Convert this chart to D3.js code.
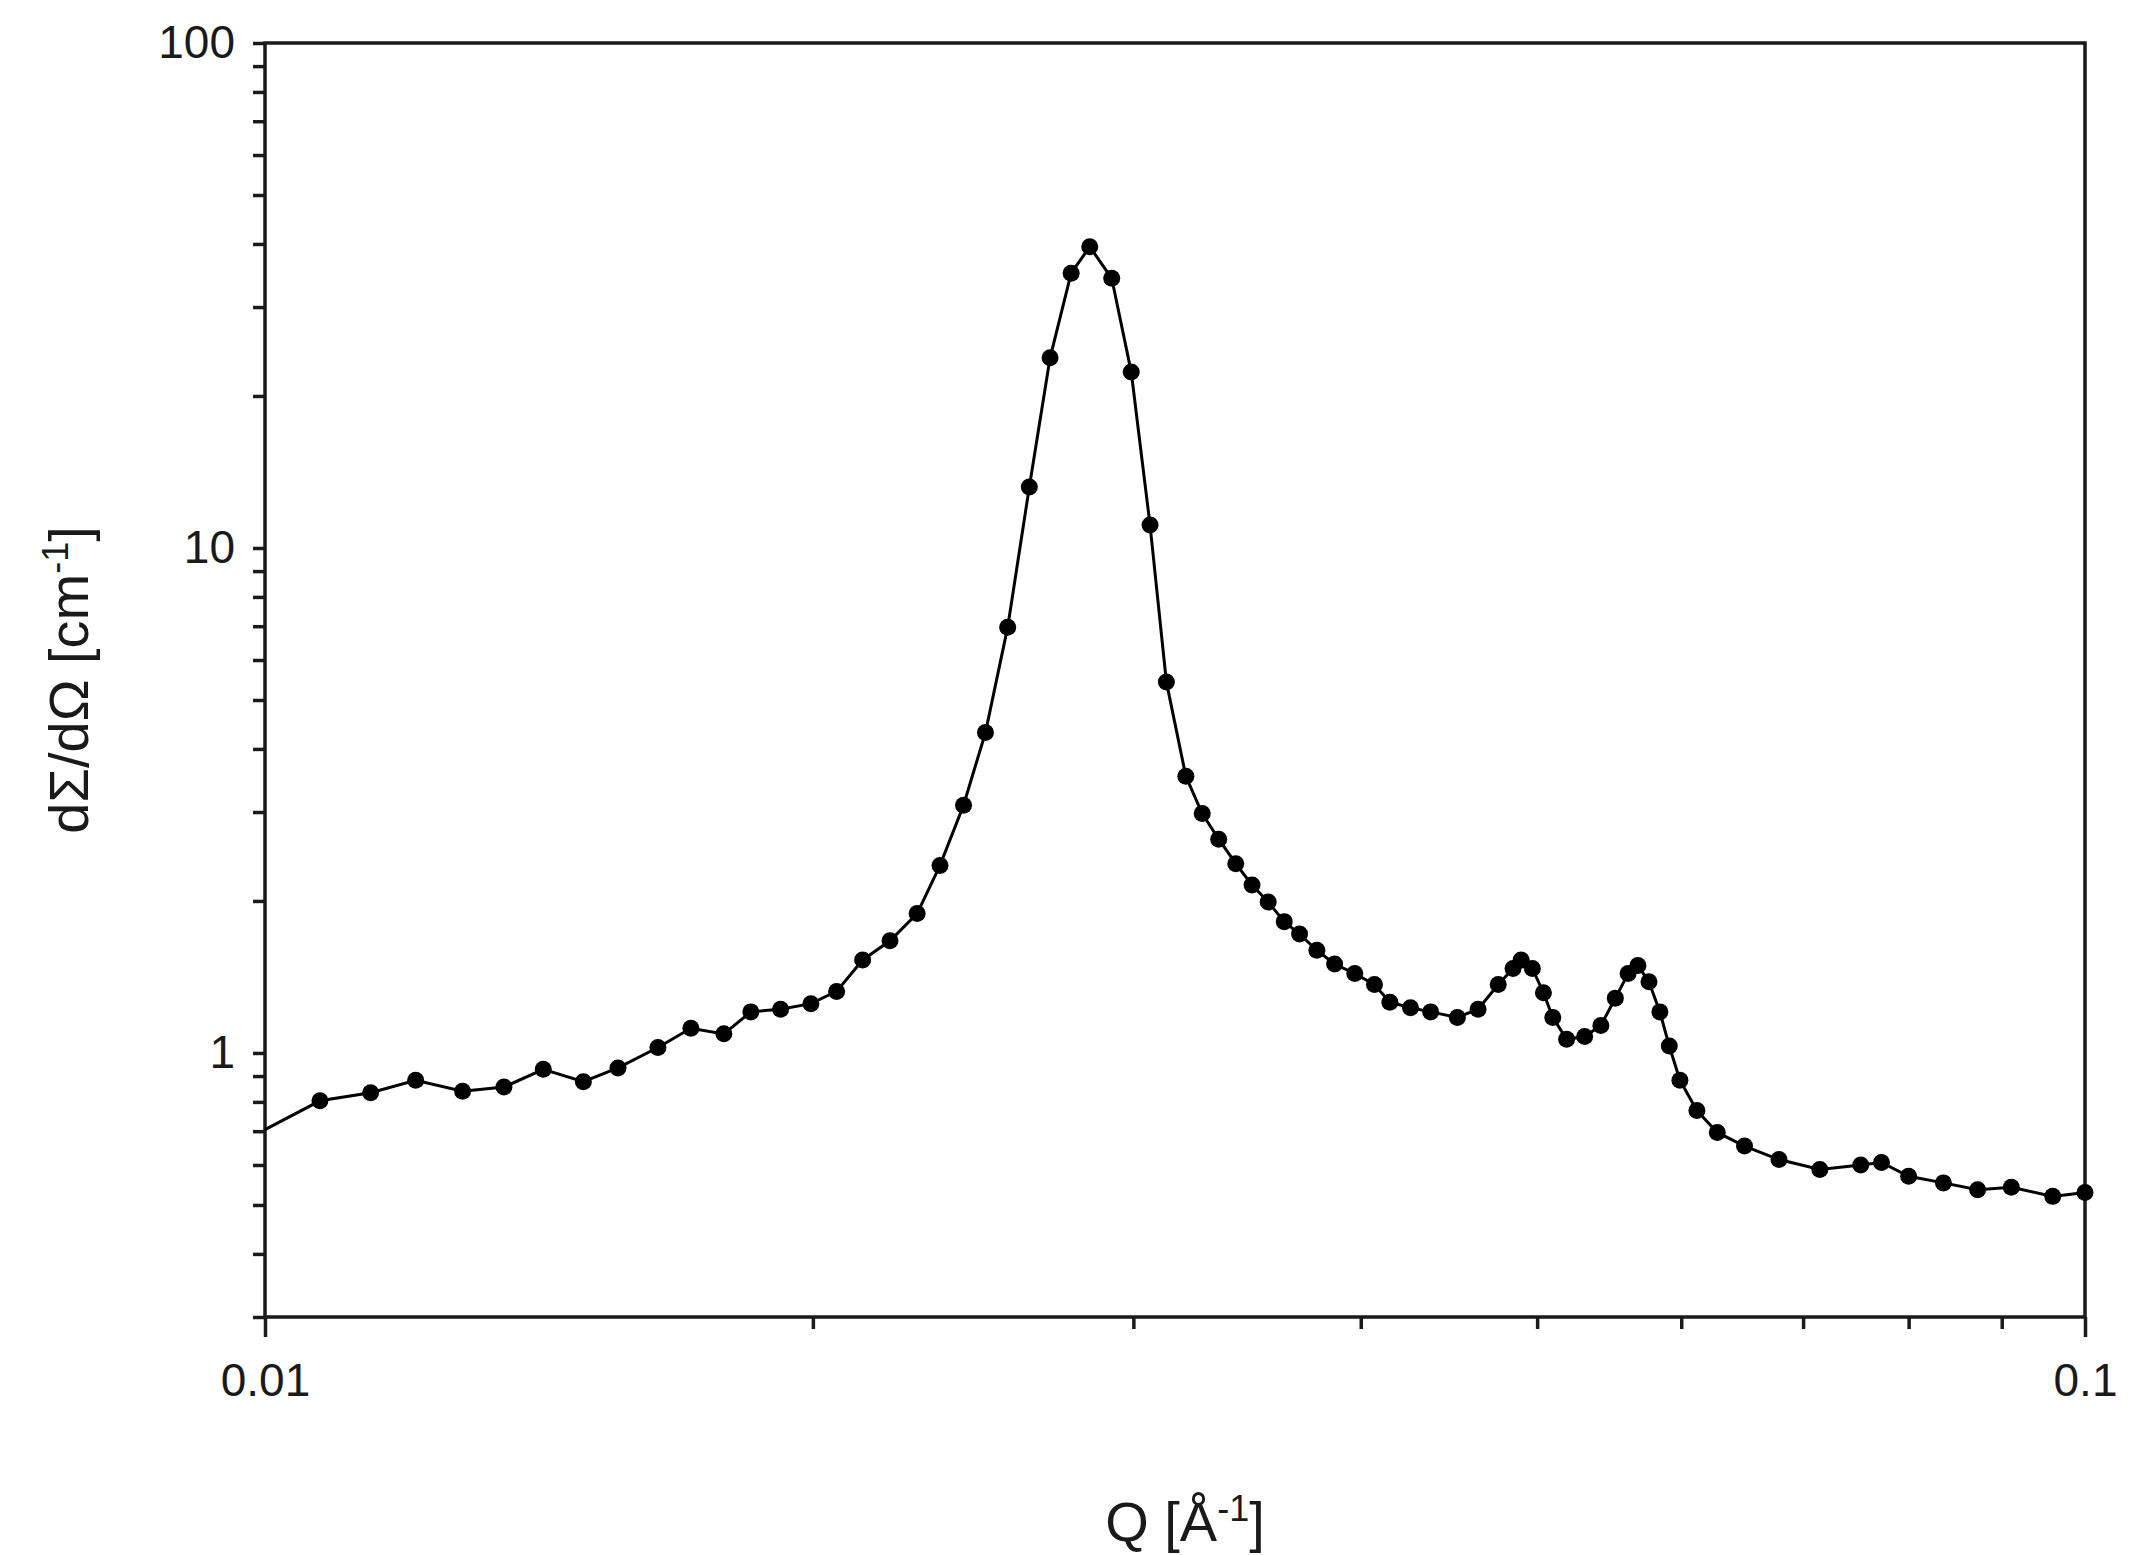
<!DOCTYPE html>
<html><head><meta charset="utf-8">
<script src="https://cdn.jsdelivr.net/npm/d3@7"></script>
<style>body{margin:0;background:#fff}</style></head>
<body><svg id="c" width="2144" height="1555"></svg>
<script>
const qValues = [0.01072,0.01143,0.01210,0.01284,0.01353,0.01422,0.01496,0.01563,0.01644,0.01714,0.01787,0.01849,0.01920,0.01995,0.02061,0.02130,0.02205,0.02282,0.02349,0.02420,0.02488,0.02559,0.02630,0.02700,0.02773,0.02839,0.02919,0.02992,0.03064,0.03128,0.03206,0.03273,0.03342,0.03415,0.03486,0.03558,0.03631,0.03702,0.03784,0.0387,0.0397,0.0407,0.0415,0.0426,0.0437,0.0452,0.0464,0.0476,0.0485,0.0490,0.0497,0.0504,0.0510,0.0519,0.0531,0.0542,0.0552,0.0561,0.0568,0.0576,0.0584,0.0591,0.0599,0.0612,0.0628,0.0650,0.0679,0.0715,0.0753,0.0773,0.0800,0.0836,0.0873,0.0911,0.0960,0.100];
const iValues = [0.804,0.834,0.883,0.840,0.856,0.928,0.877,0.934,1.025,1.119,1.091,1.206,1.221,1.252,1.324,1.528,1.668,1.888,2.352,3.095,4.31,6.97,13.2,23.8,35.0,39.5,34.2,22.3,11.1,5.43,3.53,2.98,2.65,2.37,2.15,1.99,1.82,1.72,1.597,1.50,1.436,1.366,1.26,1.229,1.206,1.176,1.221,1.366,1.47,1.528,1.47,1.316,1.176,1.064,1.078,1.133,1.284,1.436,1.49,1.383,1.206,1.032,0.883,0.769,0.696,0.654,0.615,0.588,0.600,0.607,0.570,0.553,0.536,0.542,0.520,0.529];
const lineStart = {q:0.01, i:0.705};
const xTicks = [0.01, 0.1], xTickLabels = ["0.01","0.1"];
const yTicks = [1,10,100], yTickLabels = ["1","10","100"];
const xMinor = [0.02,0.03,0.04,0.05,0.06,0.07,0.08,0.09];
const yMinor = [0.3,0.4,0.5,0.6,0.7,0.8,0.9,2,3,4,5,6,7,8,9,20,30,40,50,60,70,80,90];

const L=265,R=2085,T=43,B=1317;
const svg=d3.select("#c");
const x=d3.scaleLog().domain([0.01,0.1]).range([L,R]);
const y=d3.scaleLog().domain([0.3,100]).range([B,T]);
const font="'Liberation Sans', Arial, sans-serif", col="#1a1a1a";

const ax=d3.axisBottom(x).tickValues(xTicks).tickFormat((d,i)=>xTickLabels[i]).tickSize(20).tickPadding(26);
svg.append("g").attr("transform",`translate(0,${B})`).call(ax);
svg.append("g").attr("transform",`translate(0,${B})`).call(d3.axisBottom(x).tickValues(xMinor).tickFormat("").tickSize(12));
const ay=d3.axisLeft(y).tickValues(yTicks).tickFormat((d,i)=>yTickLabels[i]).tickSize(12).tickPadding(18);
svg.append("g").attr("transform",`translate(${L},0)`).call(ay);
svg.append("g").attr("transform",`translate(${L},0)`).call(d3.axisLeft(y).tickValues(yMinor).tickFormat("").tickSize(12));
svg.selectAll(".domain").remove();
svg.selectAll(".tick line").attr("stroke",col).attr("stroke-width",3.5);
svg.selectAll(".tick text").attr("font-family",font).attr("font-size",46).attr("fill",col);
svg.append("rect").attr("x",L).attr("y",T).attr("width",R-L).attr("height",B-T).attr("fill","none").attr("stroke",col).attr("stroke-width",3.5);

const pts=qValues.map((q,i)=>({q,i:iValues[i]}));
const line=d3.line().x(d=>x(d.q)).y(d=>y(d.i));
svg.append("path").datum([lineStart,...pts]).attr("d",line).attr("fill","none").attr("stroke","#000").attr("stroke-width",3);
svg.append("g").selectAll("circle").data(pts).join("circle").attr("cx",d=>x(d.q)).attr("cy",d=>y(d.i)).attr("r",8.5).attr("fill","#000");

svg.append("text").attr("x",(L+R)/2+10).attr("y",1541).attr("text-anchor","middle").attr("font-family",font).attr("font-size",56).attr("fill",col)
  .html('Q [Å<tspan dy="-20" font-size="36">-1</tspan><tspan dy="20">]</tspan>');
svg.append("text").attr("transform",`translate(88,${(T+B)/2}) rotate(-90)`).attr("text-anchor","middle").attr("font-family",font).attr("font-size",56).attr("fill",col)
  .html('dΣ/dΩ [cm<tspan dy="-20" font-size="36">-1</tspan><tspan dy="20">]</tspan>');
</script></body></html>
